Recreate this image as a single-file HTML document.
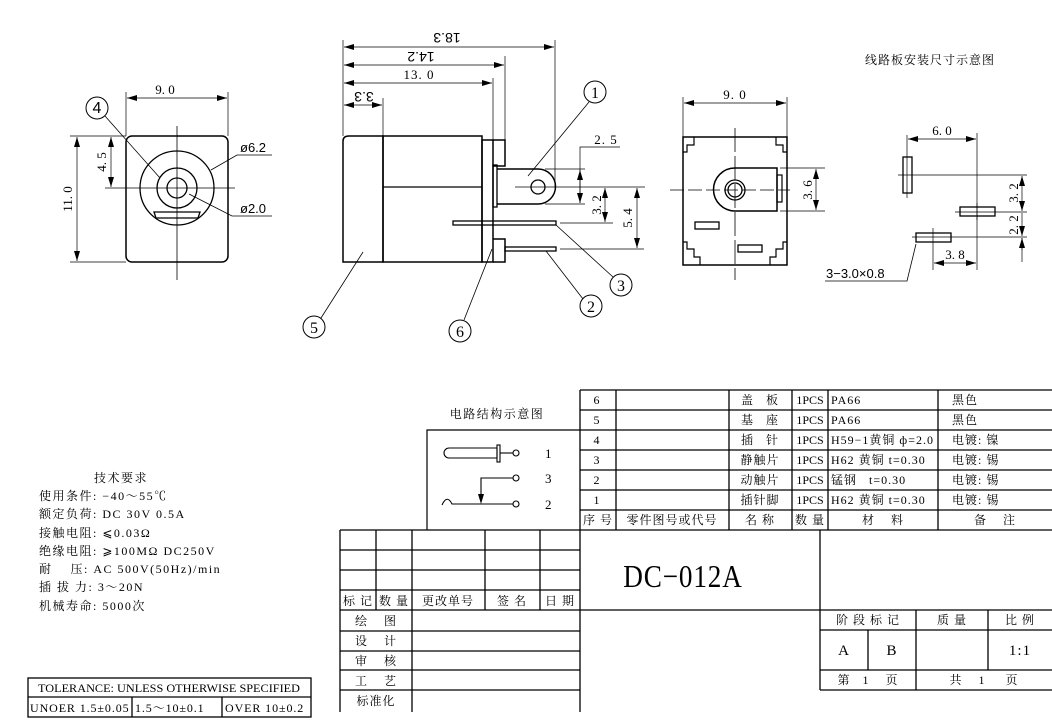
<!DOCTYPE html>
<html><head><meta charset="utf-8"><style>
html,body{margin:0;padding:0;background:#fff;}
svg{display:block;}
text{font-family:"Liberation Serif","Noto Serif CJK SC",serif;fill:#000;}
.sans{font-family:"Liberation Sans","Noto Sans CJK SC",sans-serif;}
</style></head><body>
<svg width="1052" height="720" viewBox="0 0 1052 720" xmlns="http://www.w3.org/2000/svg">
<defs>
<marker id="a" viewBox="0 0 10 6" refX="10" refY="3" markerWidth="10" markerHeight="6" orient="auto-start-reverse" markerUnits="userSpaceOnUse"><path d="M0,0 L10,3 L0,6 z" fill="#000"/></marker>
</defs>
<g stroke="#000" fill="none" stroke-width="1">
<rect x="126" y="136" width="102" height="126" rx="6" stroke-width="1.5"/>
<circle cx="177" cy="188" r="37" stroke-width="1.3"/>
<circle cx="177" cy="188" r="20" stroke-width="1.3"/>
<circle cx="177" cy="188" r="10" stroke-width="1.3"/>
<path d="M154,212 L200,212 L198,218 L156,218 Z" stroke-width="1.3"/>
<line x1="105" y1="188" x2="235" y2="188" stroke-width="0.8"/>
<line x1="177" y1="126" x2="177" y2="280" stroke-width="0.8"/>
<line x1="126" y1="92" x2="126" y2="136" stroke-width="0.7"/>
<line x1="228" y1="92" x2="228" y2="136" stroke-width="0.7"/>
<line x1="127" y1="98" x2="227" y2="98" marker-start="url(#a)" marker-end="url(#a)" stroke-width="0.7"/>
<line x1="70" y1="136" x2="126" y2="136" stroke-width="0.7"/>
<line x1="70" y1="262" x2="126" y2="262" stroke-width="0.7"/>
<line x1="77" y1="137" x2="77" y2="261" marker-start="url(#a)" marker-end="url(#a)" stroke-width="0.7"/>
<line x1="111" y1="137" x2="111" y2="187" marker-start="url(#a)" marker-end="url(#a)" stroke-width="0.7"/>
<circle cx="97" cy="108" r="11"/>
<line x1="105" y1="116" x2="160" y2="178" stroke-width="0.8"/>
<polyline points="211,170 237,155 272,155" stroke-width="0.8"/>
<polyline points="189,194 232,216 272,216" stroke-width="0.8"/>

<path d="M343,262 L343,141 Q343,136 349,136 L383,136 L383,262 Z" stroke-width="1.5"/>
<rect x="383" y="136" width="99" height="126" stroke-width="1.5"/>
<line x1="383" y1="187" x2="482" y2="187" stroke-width="1.3"/>
<rect x="482" y="140" width="11" height="122" stroke-width="1.5"/>
<path d="M493,140 L505,140 L505,166 L493,166" stroke-width="1.5"/>
<path d="M493,239 L505,239 L505,262 L493,262" stroke-width="1.5"/>
<rect x="493" y="165" width="4" height="42" stroke-width="1.3"/>
<path d="M497,169 L538,169 A17.5,17.5 0 0 1 538,204 L497,204" stroke-width="1.5"/>
<circle cx="538" cy="187" r="7" stroke-width="1.3"/>
<line x1="515" y1="187" x2="645" y2="187" stroke-width="0.8"/>
<rect x="453" y="221" width="103" height="4" stroke-width="1.3"/>
<rect x="505" y="247" width="51" height="4" stroke-width="1.3"/>
<line x1="343" y1="40" x2="343" y2="136" stroke-width="0.7"/>
<line x1="555" y1="40" x2="555" y2="187" stroke-width="0.7"/>
<line x1="505" y1="56" x2="505" y2="140" stroke-width="0.7"/>
<line x1="493" y1="78" x2="493" y2="140" stroke-width="0.7"/>
<line x1="383" y1="98" x2="383" y2="136" stroke-width="0.7"/>
<line x1="344" y1="47" x2="554" y2="47" marker-start="url(#a)" marker-end="url(#a)" stroke-width="0.7"/>
<line x1="344" y1="65" x2="504" y2="65" marker-start="url(#a)" marker-end="url(#a)" stroke-width="0.7"/>
<line x1="344" y1="83" x2="492" y2="83" marker-start="url(#a)" marker-end="url(#a)" stroke-width="0.7"/>
<line x1="344" y1="105" x2="382" y2="105" marker-start="url(#a)" marker-end="url(#a)" stroke-width="0.7"/>
<polyline points="620,147 580,147 580,203" stroke-width="0.7"/>
<line x1="545" y1="169" x2="585" y2="169" stroke-width="0.7"/>
<line x1="545" y1="204" x2="585" y2="204" stroke-width="0.7"/>
<line x1="580" y1="170" x2="580" y2="203" marker-start="url(#a)" marker-end="url(#a)" stroke-width="0.7"/>
<line x1="560" y1="223" x2="613" y2="223" stroke-width="0.7"/>
<line x1="605" y1="188" x2="605" y2="222" marker-start="url(#a)" marker-end="url(#a)" stroke-width="0.7"/>
<line x1="560" y1="249" x2="644" y2="249" stroke-width="0.7"/>
<line x1="637" y1="188" x2="637" y2="248" marker-start="url(#a)" marker-end="url(#a)" stroke-width="0.7"/>
<circle cx="595" cy="92" r="11"/>
<line x1="589" y1="102" x2="528" y2="176" stroke-width="0.8"/>
<circle cx="621" cy="285" r="11"/>
<line x1="556" y1="225" x2="613" y2="277" stroke-width="0.8"/>
<circle cx="591" cy="306" r="11"/>
<line x1="546" y1="251" x2="583" y2="299" stroke-width="0.8"/>
<circle cx="314" cy="327" r="11"/>
<line x1="321" y1="318" x2="363" y2="252" stroke-width="0.8"/>
<circle cx="460" cy="331" r="11"/>
<line x1="464" y1="320" x2="492" y2="249" stroke-width="0.8"/>

<rect x="683" y="137" width="104" height="128" stroke-width="1.5"/>
<polyline points="694,137 694,145 687,145 687,152 683,152" stroke-width="1.2"/>
<polyline points="776,137 776,145 783,145 783,152 787,152" stroke-width="1.2"/>
<polyline points="683,242 687,242 687,249 694,249 694,257 700,257 700,265" stroke-width="1.2"/>
<polyline points="787,242 783,242 783,249 776,249 776,257 770,257 770,265" stroke-width="1.2"/>
<path d="M777,168 L735,168 A21.5,21.5 0 0 0 735,211 L777,211 Z" stroke-width="1.5"/>
<rect x="777" y="175" width="5" height="27" stroke-width="1.2"/>
<circle cx="735" cy="190" r="10" stroke-width="1.3"/>
<circle cx="735" cy="190" r="7" stroke-width="1.3"/>
<rect x="695" y="222" width="24" height="7" stroke-width="1.3"/>
<rect x="738" y="245" width="24" height="7" stroke-width="1.3"/>
<line x1="670" y1="190" x2="790" y2="190" stroke-width="0.8" stroke-dasharray="14,4"/>
<line x1="735" y1="128" x2="735" y2="280" stroke-width="0.8" stroke-dasharray="24,4"/>
<line x1="683" y1="97" x2="683" y2="137" stroke-width="0.7"/>
<line x1="787" y1="97" x2="787" y2="137" stroke-width="0.7"/>
<line x1="684" y1="103" x2="786" y2="103" marker-start="url(#a)" marker-end="url(#a)" stroke-width="0.7"/>
<line x1="780" y1="168" x2="825" y2="168" stroke-width="0.7"/>
<line x1="780" y1="211" x2="825" y2="211" stroke-width="0.7"/>
<line x1="816" y1="169" x2="816" y2="210" marker-start="url(#a)" marker-end="url(#a)" stroke-width="0.7"/>

<rect x="903" y="157" width="9" height="36" stroke-width="1.3"/>
<rect x="960" y="207" width="35" height="9" stroke-width="1.3"/>
<rect x="916" y="233" width="35" height="9" stroke-width="1.3"/>
<line x1="898" y1="175" x2="1027" y2="175" stroke-width="0.7"/>
<line x1="907" y1="135" x2="907" y2="198" stroke-width="0.7"/>
<line x1="955" y1="212" x2="1027" y2="212" stroke-width="0.7"/>
<line x1="977" y1="203" x2="977" y2="220" stroke-width="0.7"/>
<line x1="912" y1="237" x2="1027" y2="237" stroke-width="0.7"/>
<line x1="933" y1="228" x2="933" y2="270" stroke-width="0.7"/>
<line x1="977" y1="133" x2="977" y2="270" stroke-width="0.7"/>
<line x1="908" y1="139" x2="976" y2="139" marker-start="url(#a)" marker-end="url(#a)" stroke-width="0.7"/>
<line x1="934" y1="263" x2="976" y2="263" marker-start="url(#a)" marker-end="url(#a)" stroke-width="0.7"/>
<line x1="1022" y1="176" x2="1022" y2="211" marker-start="url(#a)" marker-end="url(#a)" stroke-width="0.7"/>
<line x1="1022" y1="213" x2="1022" y2="236" marker-end="url(#a)" stroke-width="0.7"/>
<line x1="1022" y1="238" x2="1022" y2="262" stroke-width="0.7"/>
<line x1="1022" y1="250" x2="1022" y2="238" marker-end="url(#a)" stroke-width="0.7"/>
<polyline points="825,281 907,281 916,244" stroke-width="0.8"/>

<polyline points="427,530 427,430 580,430" stroke-width="1.2"/>
<path d="M449,448 A5,5 0 0 0 449,458 L497,458 M449,448 L497,448 M497,448 L497,458" stroke-width="1.1"/>
<rect x="497" y="445" width="3" height="17" stroke-width="1.1"/>
<line x1="500" y1="453" x2="513" y2="453" stroke-width="1.1"/>
<circle cx="516" cy="453" r="3" stroke-width="1.1"/>
<polyline points="513,478 481,478 481,497" stroke-width="1.1"/>
<path d="M478,494 L481,504 L484,494 Z" fill="#000" stroke="none"/>
<circle cx="516" cy="478" r="3" stroke-width="1.1"/>
<path d="M442,505 Q447,494 452,504 L513,504" stroke-width="1.1"/>
<circle cx="516" cy="504" r="3" stroke-width="1.1"/>

<g stroke-width="1.3">
<line x1="340" y1="530" x2="580" y2="530"/>
<line x1="340" y1="550" x2="580" y2="550"/>
<line x1="340" y1="570" x2="580" y2="570"/>
<line x1="340" y1="590" x2="580" y2="590"/>
<line x1="340" y1="610" x2="1052" y2="610"/>
<line x1="340" y1="631" x2="580" y2="631"/>
<line x1="340" y1="651" x2="580" y2="651"/>
<line x1="340" y1="670" x2="580" y2="670"/>
<line x1="340" y1="690" x2="580" y2="690"/>
<line x1="340" y1="530" x2="340" y2="712"/>
<line x1="376" y1="530" x2="376" y2="610"/>
<line x1="412" y1="530" x2="412" y2="712"/>
<line x1="485" y1="530" x2="485" y2="610"/>
<line x1="540" y1="530" x2="540" y2="610"/>
<line x1="580" y1="390" x2="580" y2="712"/>
</g>
<g stroke-width="1.3">
<line x1="580" y1="390" x2="1052" y2="390"/>
<line x1="580" y1="410" x2="1052" y2="410"/>
<line x1="580" y1="430" x2="1052" y2="430"/>
<line x1="580" y1="450" x2="1052" y2="450"/>
<line x1="580" y1="470" x2="1052" y2="470"/>
<line x1="580" y1="490" x2="1052" y2="490"/>
<line x1="580" y1="510" x2="1052" y2="510"/>
<line x1="580" y1="530" x2="1052" y2="530"/>
<line x1="616" y1="390" x2="616" y2="530"/>
<line x1="729" y1="390" x2="729" y2="530"/>
<line x1="792" y1="390" x2="792" y2="530"/>
<line x1="828" y1="390" x2="828" y2="530"/>
<line x1="938" y1="390" x2="938" y2="530"/>
<line x1="820" y1="530" x2="820" y2="690"/>
<line x1="820" y1="630" x2="1052" y2="630"/>
<line x1="820" y1="670" x2="1052" y2="670"/>
<line x1="820" y1="690" x2="1052" y2="690"/>
<line x1="868" y1="630" x2="868" y2="670"/>
<line x1="916" y1="610" x2="916" y2="690"/>
<line x1="988" y1="610" x2="988" y2="670"/>
</g>
<rect x="28" y="678" width="283" height="39" stroke-width="1.3"/>
<line x1="28" y1="697" x2="311" y2="697" stroke-width="1.3"/>
<line x1="132" y1="697" x2="132" y2="717" stroke-width="1.3"/>
<line x1="222" y1="697" x2="222" y2="717" stroke-width="1.3"/>
</g>

<g font-size="13">
<text x="165" y="94" text-anchor="middle">9. 0</text>
<text x="97" y="113" text-anchor="middle" class="sans" font-size="16">4</text>
<text transform="translate(72,199) rotate(-90)" text-anchor="middle">11. 0</text>
<text transform="translate(106,162) rotate(-90)" text-anchor="middle">4. 5</text>
<text x="240" y="152" class="sans" font-size="13">ø6.2</text>
<text x="240" y="213" class="sans" font-size="13">ø2.0</text>

<text transform="translate(447,33) rotate(180)" text-anchor="middle" class="sans" font-size="14">18.3</text>
<text transform="translate(421,52) rotate(180)" text-anchor="middle" class="sans" font-size="14">14.2</text>
<text x="419" y="79" text-anchor="middle" letter-spacing="1">13. 0</text>
<text transform="translate(364,92) rotate(180)" text-anchor="middle" class="sans" font-size="14">3.3</text>
<text x="606" y="144" text-anchor="middle" letter-spacing="1">2. 5</text>
<text transform="translate(601,205) rotate(-90)" text-anchor="middle">3. 2</text>
<text transform="translate(632,218) rotate(-90)" text-anchor="middle">5. 4</text>
<g class="sans" font-size="16" text-anchor="middle">
<text x="595" y="98">1</text><text x="621" y="291">3</text><text x="591" y="312">2</text><text x="314" y="333">5</text><text x="460" y="337">6</text>
</g>

<text x="735" y="99" text-anchor="middle" letter-spacing="1">9. 0</text>
<text transform="translate(812,190) rotate(-90)" text-anchor="middle">3. 6</text>

<text x="930" y="64" text-anchor="middle" font-size="12" letter-spacing="1">线路板安装尺寸示意图</text>
<text x="942" y="135" text-anchor="middle">6. 0</text>
<text x="955" y="259" text-anchor="middle">3. 8</text>
<text transform="translate(1018,193) rotate(-90)" text-anchor="middle">3. 2</text>
<text transform="translate(1018,225) rotate(-90)" text-anchor="middle">2. 2</text>
<text x="826" y="278" class="sans" font-size="13">3−3.0×0.8</text>

<text x="497" y="418" text-anchor="middle" font-size="12" letter-spacing="1.5">电路结构示意图</text>
<text x="545" y="458">1</text>
<text x="545" y="483">3</text>
<text x="545" y="509">2</text>

<g font-size="12" letter-spacing="1.5">
<text x="121" y="482" text-anchor="middle">技术要求</text>
<text x="39" y="500">使用条件: −40～55℃</text>
<text x="39" y="518">额定负荷: DC 30V 0.5A</text>
<text x="39" y="537">接触电阻: ⩽0.03Ω</text>
<text x="39" y="555">绝缘电阻: ⩾100MΩ DC250V</text>
<text x="39" y="573">耐&#160;&#160;&#160;&#160;压: AC 500V(50Hz)/min</text>
<text x="39" y="591">插 拔 力: 3～20N</text>
<text x="39" y="610">机械寿命: 5000次</text>
</g>

<g font-size="12">
<text x="38" y="692" textLength="262" lengthAdjust="spacingAndGlyphs">TOLERANCE: UNLESS OTHERWISE SPECIFIED</text>
<text x="30" y="712" letter-spacing="0.9">UNOER 1.5±0.05</text>
<text x="135" y="712" letter-spacing="0.9">1.5～10±0.1</text>
<text x="225" y="712" letter-spacing="0.9">OVER 10±0.2</text>
</g>

<g font-size="12" text-anchor="middle" letter-spacing="1">
<text x="358" y="605">标 记</text><text x="394" y="605">数 量</text><text x="448" y="605">更改单号</text><text x="512" y="605">签 名</text><text x="560" y="605">日 期</text>
<text x="376" y="625">绘&#160;&#160;&#160;&#160;图</text>
<text x="376" y="645">设&#160;&#160;&#160;&#160;计</text>
<text x="376" y="665">审&#160;&#160;&#160;&#160;核</text>
<text x="376" y="685">工&#160;&#160;&#160;&#160;艺</text>
<text x="376" y="705">标准化</text>

<text x="597" y="404">6</text><text x="597" y="424">5</text><text x="597" y="444">4</text><text x="597" y="464">3</text><text x="597" y="484">2</text><text x="597" y="504">1</text>
<text x="760" y="404">盖&#160;&#160;&#160;板</text>
<text x="760" y="424">基&#160;&#160;&#160;座</text>
<text x="760" y="444">插&#160;&#160;&#160;针</text>
<text x="760" y="464">静触片</text>
<text x="760" y="484">动触片</text>
<text x="760" y="504">插针脚</text>
<text x="810" y="404" letter-spacing="0">1PCS</text><text x="810" y="424" letter-spacing="0">1PCS</text><text x="810" y="444" letter-spacing="0">1PCS</text><text x="810" y="464" letter-spacing="0">1PCS</text><text x="810" y="484" letter-spacing="0">1PCS</text><text x="810" y="504" letter-spacing="0">1PCS</text>
<text x="598" y="524">序 号</text><text x="672" y="524">零件图号或代号</text><text x="760" y="524">名 称</text><text x="810" y="524">数 量</text><text x="883" y="524">材&#160;&#160;&#160;&#160;料</text><text x="995" y="524">备&#160;&#160;&#160;&#160;注</text>
<text x="868" y="624">阶 段 标 记</text><text x="952" y="624">质 量</text><text x="1020" y="624">比 例</text>
<text x="844" y="655" font-size="15">A</text><text x="892" y="655" font-size="15">B</text><text x="1020" y="655" font-size="15">1:1</text>
<text x="868" y="684">第&#160;&#160;&#160;1&#160;&#160;&#160;&#160;页</text>
<text x="984" y="684">共&#160;&#160;&#160;&#160;1&#160;&#160;&#160;&#160;&#160;页</text>
</g>
<g font-size="12" letter-spacing="1">
<text x="831" y="404">PA66</text><text x="831" y="424">PA66</text>
<text x="831" y="444">H59−1黄铜 ф=2.0</text>
<text x="831" y="464">H62 黄铜 t=0.30</text>
<text x="831" y="484">锰钢&#160;&#160;&#160;t=0.30</text>
<text x="831" y="504">H62 黄铜 t=0.30</text>
<text x="952" y="404">黑色</text><text x="952" y="424">黑色</text>
<text x="952" y="444">电镀: 镍</text><text x="952" y="464">电镀: 锡</text><text x="952" y="484">电镀: 锡</text><text x="952" y="504">电镀: 锡</text>
</g>
<text x="683" y="587" text-anchor="middle" font-size="32" letter-spacing="1" transform="translate(683,0) scale(0.85,1) translate(-683,0)">DC−012A</text>
</svg>
</body></html>
